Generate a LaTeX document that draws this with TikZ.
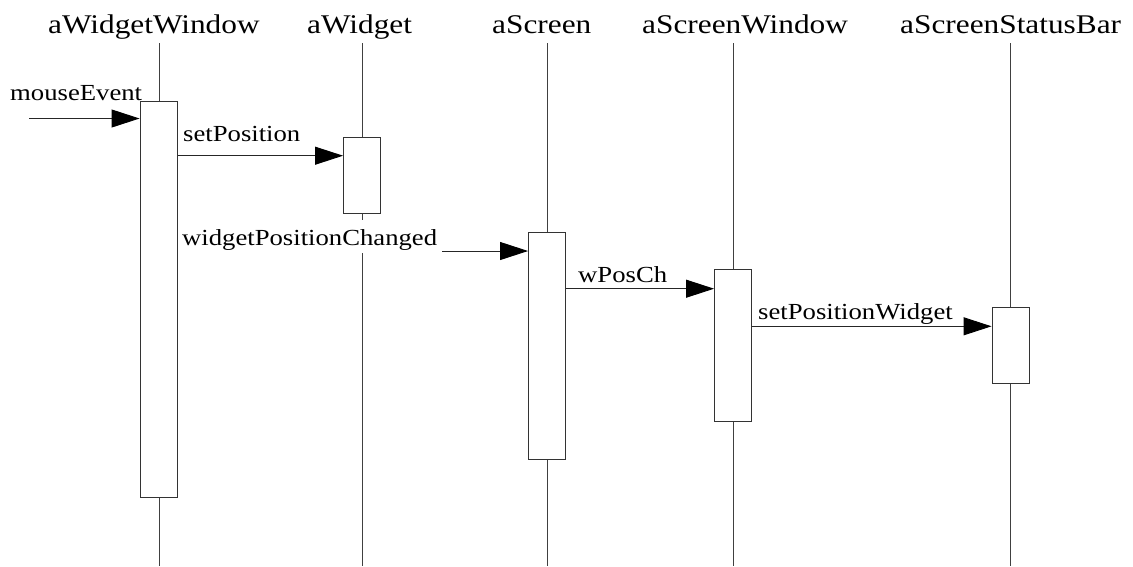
\documentclass[tikz,border=0pt]{standalone}
\usepackage{fontspec}
\setmainfont{Liberation Serif}
\usetikzlibrary{arrows.meta}
\tikzset{
  title/.style={anchor=base west, inner sep=0pt, font=\fontsize{27}{30}\selectfont},
  lbl/.style={anchor=base west, inner xsep=4pt, inner ysep=3pt, text height=22pt, text depth=5pt, font=\fontsize{23}{26}\selectfont},
  coverlbl/.style={lbl, fill=white, inner xsep=5pt},
  life/.style={draw=black!75, line width=0.9pt},
  actbox/.style={draw=black!80, line width=0.9pt, fill=white, minimum width=37pt, anchor=north, inner sep=0pt},
  msg/.style={draw=black!85, line width=0.9pt, -{Triangle[length=28pt,width=18pt,color=black]}}
}
\newcommand{\wide}[1]{\scalebox{1.16}[1]{#1}}
\begin{document}
\begin{tikzpicture}[x=1pt,y=-1pt]
\useasboundingbox[fill=white] (0,0) rectangle (1133,566);
% titles
\node[title] (t1) at (48,33.3) {\wide{aWidgetWindow}};
\node[title] (t2) at (307,33.3) {\wide{aWidget}};
\node[title] (t3) at (492,33.3) {\wide{aScreen}};
\node[title] (t4) at (642,33.3) {\wide{aScreenWindow}};
\node[title] (t5) at (900,33.3) {\wide{aScreenStatusBar}};
% lifeline anchors
\coordinate (l1) at (159,43);  \coordinate (e1) at (159,566);
\coordinate (l2) at (362,43);  \coordinate (e2) at (362,566);
\coordinate (l3) at (547,43);  \coordinate (e3) at (547,566);
\coordinate (l4) at (733,43);  \coordinate (e4) at (733,566);
\coordinate (l5) at (1010.5,43); \coordinate (e5) at (1010.5,566);
\draw[life] (l1) -- (e1);
\draw[life] (l2) -- (e2);
\draw[life] (l3) -- (e3);
\draw[life] (l4) -- (e4);
\draw[life] (l5) -- (e5);
% activation boxes (positions only; drawn later)
\path (158.5,101) node[actbox, minimum height=396pt, draw=none, fill=none] (b1) {};
\path (362,136.7) node[actbox, minimum height=76pt, draw=none, fill=none] (b2) {};
\path (547,231.7) node[actbox, minimum height=227pt, draw=none, fill=none] (b3) {};
\path (733,269.3) node[actbox, minimum height=151.7pt, draw=none, fill=none] (b4) {};
\path (1010.5,307.3) node[actbox, minimum height=76pt, draw=none, fill=none] (b5) {};
% messages
\coordinate (src) at (29,118.5);
\draw[msg] (src) -- (src -| b1.west);
\draw[msg] (b1.east |- 0,155.7) -- (b2.west |- 0,155.7);
\draw[msg] (b1.east |- 0,251) -- (b3.west |- 0,251);
\draw[msg] (b3.east |- 0,288.7) -- (b4.west |- 0,288.7);
\draw[msg] (b4.east |- 0,326.3) -- (b5.west |- 0,326.3);
% labels
\node[lbl] (m0) at (6,100.5) {\wide{mouseEvent}};
\node[lbl] (m1) at (179,141) {\wide{setPosition}};
\node[coverlbl] (m2) at (177,245) {\wide{widgetPositionChanged}};
\node[lbl] (m3) at (574,282) {\wide{wPosCh}};
\node[lbl] (m4) at (754,319.3) {\wide{setPositionWidget}};
% activation boxes drawn on top
\node[actbox, minimum height=396pt] at (158.5,101) {};
\node[actbox, minimum height=76pt] at (362,136.7) {};
\node[actbox, minimum height=227pt] at (547,231.7) {};
\node[actbox, minimum height=151.7pt] at (733,269.3) {};
\node[actbox, minimum height=76pt] at (1010.5,307.3) {};
\end{tikzpicture}
\end{document}
